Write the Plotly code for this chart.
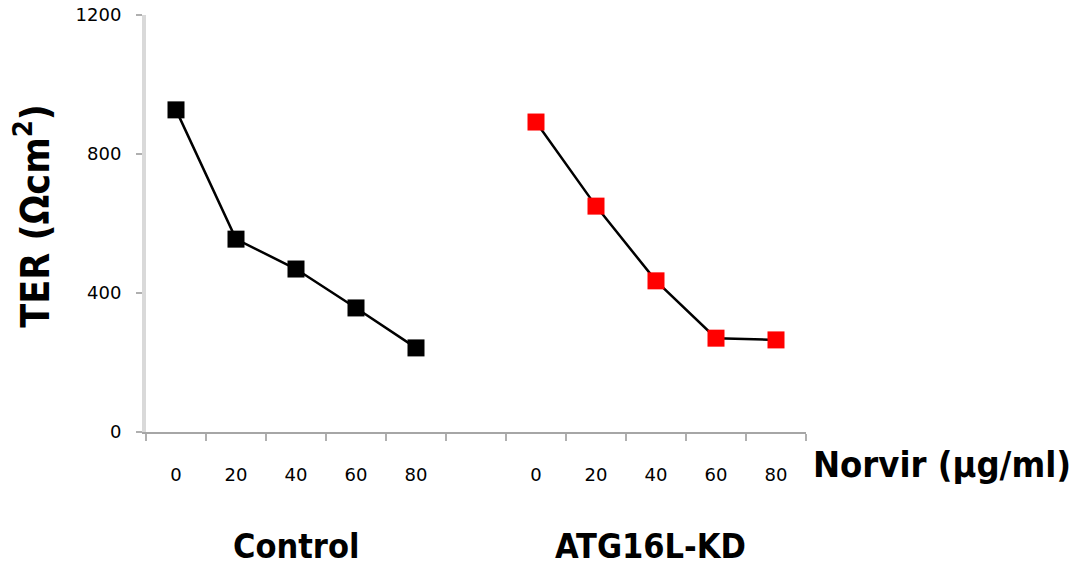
import plotly.graph_objects as go

doses = ["0", "20", "40", "60", "80"]
control_ter = [927, 555, 469, 357, 242]
kd_ter = [892, 650, 435, 270, 265]
groups = ["Control", "ATG16L-KD"]
y_ticks = [0, 400, 800, 1200]

ctrl_x = list(range(len(doses)))
kd_x = [i + len(doses) + 1 for i in range(len(doses))]

fig = go.Figure()
fig.add_trace(go.Scatter(
    x=ctrl_x, y=control_ter, mode="lines+markers",
    line=dict(color="black", width=2.5),
    marker=dict(symbol="square", size=17, color="black"),
    cliponaxis=False, showlegend=False))
fig.add_trace(go.Scatter(
    x=kd_x, y=kd_ter, mode="lines+markers",
    line=dict(color="black", width=2.5),
    marker=dict(symbol="square", size=17, color="#ff0000"),
    cliponaxis=False, showlegend=False))

tickfont = dict(family="DejaVu Sans", size=18, color="black")
bold = "DejaVu Sans Condensed"
fig.update_layout(
    width=1081, height=567,
    margin=dict(l=146, r=275, t=15, b=135, autoexpand=False),
    paper_bgcolor="white", plot_bgcolor="white",
    font=dict(family=bold, color="black"),
    xaxis=dict(
        range=[-0.5, 10.5], showgrid=False, zeroline=False, automargin=False,
        showline=True, linecolor="#a6a6a6", linewidth=2,
        tickvals=ctrl_x + kd_x, ticktext=doses + doses,
        ticks="", tickfont=tickfont, ticklabelstandoff=25,
        minor=dict(tick0=-0.5, dtick=1, ticks="outside", ticklen=7,
                   tickcolor="#b0b0b0", tickwidth=2, showgrid=False),
    ),
    yaxis=dict(
        range=[0, 1200], showgrid=False, zeroline=False, automargin=False,
        showline=True, linecolor="#d9d9d9", linewidth=4,
        tickvals=y_ticks, ticks="outside", ticklen=6, tickcolor="#b0b0b0",
        tickwidth=2, tickfont=tickfont, ticklabelstandoff=11,
    ),
    annotations=[
        dict(text="<b>TER (Ωcm<sup>2</sup>)</b>", xref="paper", yref="paper",
             x=-0.172, y=0.52, xanchor="center", yanchor="middle",
             textangle=-90, showarrow=False, font=dict(family=bold, size=39)),
        dict(text="<b>Norvir (µg/ml)</b>", xref="paper", yref="paper",
             x=1.008, y=-0.079, xanchor="left", yanchor="middle", showarrow=False,
             font=dict(family=bold, size=36)),
        dict(text="<b>" + groups[0] + "</b>", xref="x", yref="paper",
             x=2, y=-0.274, xanchor="center", yanchor="middle", showarrow=False,
             font=dict(family=bold, size=34)),
        dict(text="<b>" + groups[1] + "</b>", xref="x", yref="paper",
             x=7.9, y=-0.274, xanchor="center", yanchor="middle", showarrow=False,
             font=dict(family=bold, size=34)),
    ],
)
fig.write_html("out.html", config={"displayModeBar": False},
               post_script="document.body.style.margin='0px';document.body.style.overflow='hidden';")
